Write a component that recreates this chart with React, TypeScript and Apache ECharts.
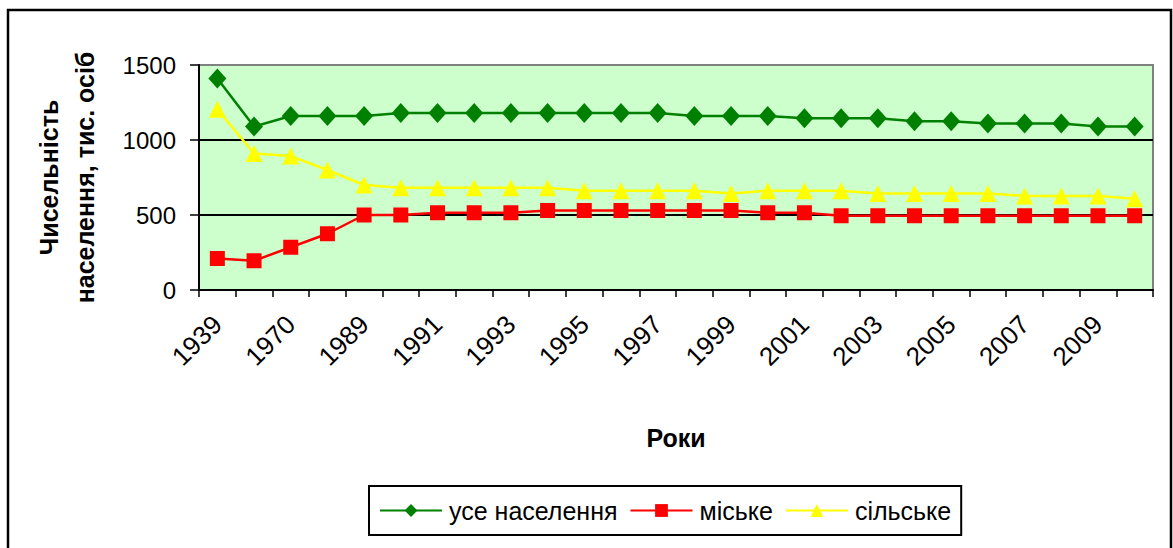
import React, { useEffect, useRef } from "react";
import * as echarts from "echarts";

const categories = [
  "1939", "1959", "1970", "1979", "1989", "1990", "1991", "1992", "1993", "1994",
  "1995", "1996", "1997", "1998", "1999", "2000", "2001", "2002", "2003", "2004",
  "2005", "2006", "2007", "2008", "2009", "2010",
];
const total = [
  1410, 1090, 1160, 1160, 1160, 1180, 1180, 1180, 1180, 1180,
  1180, 1180, 1180, 1160, 1160, 1160, 1145, 1145, 1145, 1125,
  1125, 1110, 1110, 1110, 1090, 1090,
];
const urban = [
  210, 195, 285, 375, 500, 500, 515, 515, 515, 530,
  530, 530, 530, 530, 530, 515, 515, 495, 495, 495,
  495, 495, 495, 495, 495, 495,
];
const rural = [
  1205, 910, 893, 800, 700, 682, 682, 682, 682, 682,
  662, 662, 662, 662, 644, 662, 662, 662, 644, 644,
  644, 644, 627, 627, 627, 609,
];
const seriesNames = ["усе населення", "міське", "сільське"];
const yTicks = { min: 0, max: 1500, interval: 500 };

const FONT = "'Liberation Sans', Arial, sans-serif";

export default function App() {
  const ref = useRef<HTMLDivElement>(null);
  useEffect(() => {
    document.body.style.margin = "0";
    const chart = echarts.init(ref.current!, null, { renderer: "svg" });
    chart.setOption({
      animation: false,
      backgroundColor: "#ffffff",
      graphic: [
        {
          type: "rect",
          shape: { x: 8, y: 10, width: 1163, height: 600 },
          style: { fill: "none", stroke: "#000", lineWidth: 2.5 },
          z: 100,
          silent: true,
        },
      ],
      grid: {
        left: 199,
        top: 65,
        right: 20,
        bottom: 258,
        show: true,
        backgroundColor: "#CCFFCC",
        borderColor: "#808080",
        borderWidth: 2,
      },
      legend: {
        left: 369,
        top: 486,
        padding: [12, 10, 12, 10],
        itemGap: 12,
        itemWidth: 62,
        itemHeight: 16,
        borderColor: "#000",
        borderWidth: 2,
        textStyle: { fontFamily: FONT, fontSize: 25, color: "#000", padding: [0, 0, 0, 2] },
        data: seriesNames,
      },
      xAxis: {
        type: "category",
        data: categories,
        boundaryGap: true,
        name: "Роки",
        nameLocation: "middle",
        nameGap: 135,
        nameTextStyle: { fontFamily: FONT, fontSize: 25, fontWeight: "bold", color: "#000" },
        axisLine: { lineStyle: { color: "#000", width: 2 } },
        axisTick: { show: true, interval: 0, length: 7, lineStyle: { color: "#000", width: 1.5 } },
        axisLabel: {
          interval: 1,
          rotate: 45,
          margin: 30,
          fontFamily: FONT,
          fontSize: 26,
          color: "#000",
        },
        splitLine: { show: false },
      },
      yAxis: {
        type: "value",
        min: yTicks.min,
        max: yTicks.max,
        interval: yTicks.interval,
        name: "Чисельність\nнаселення, тис. осіб",
        nameLocation: "middle",
        nameRotate: 90,
        nameGap: 96,
        nameTextStyle: {
          fontFamily: FONT,
          fontSize: 25,
          fontWeight: "bold",
          color: "#000",
          lineHeight: 36,
        },
        axisLine: { show: true, lineStyle: { color: "#000", width: 2 } },
        axisTick: { show: true, length: 9, lineStyle: { color: "#000", width: 1.5 } },
        axisLabel: {
          margin: 23,
          fontFamily: FONT,
          fontSize: 24,
          color: "#000",
          formatter: (v: number) => String(v),
        },
        splitLine: {
          show: true,
          lineStyle: { color: ["#000", "#000", "#000", "#808080"], width: 2 },
        },
      },
      series: [
        {
          name: seriesNames[0],
          type: "line",
          data: total,
          symbol: "diamond",
          symbolSize: [18, 20],
          itemStyle: { color: "#008000" },
          lineStyle: { color: "#008000", width: 2.5 },
          z: 4,
        },
        {
          name: seriesNames[1],
          type: "line",
          data: urban,
          symbol: "rect",
          symbolSize: 15,
          itemStyle: { color: "#FF0000" },
          lineStyle: { color: "#FF0000", width: 2.5 },
          z: 3,
        },
        {
          name: seriesNames[2],
          type: "line",
          data: rural,
          symbol: "triangle",
          symbolSize: [17, 17],
          itemStyle: { color: "#FFFF00" },
          lineStyle: { color: "#FFFF00", width: 2.5 },
          z: 2,
        },
      ],
    });
    return () => chart.dispose();
  }, []);
  return <div ref={ref} style={{ width: 1173, height: 548 }} />;
}
